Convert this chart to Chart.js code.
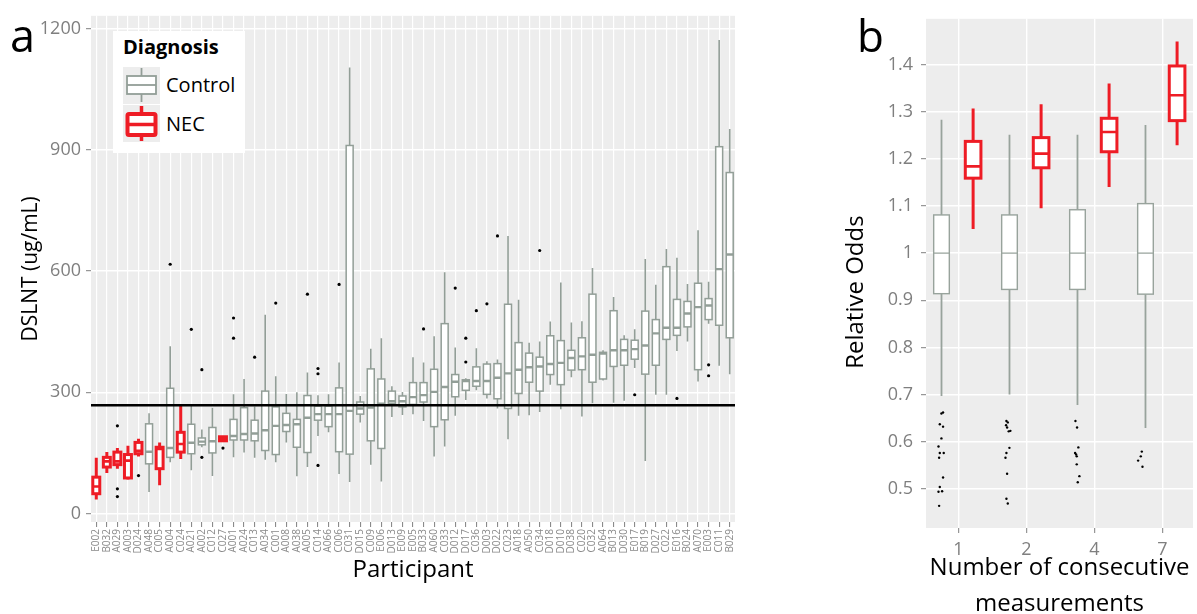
<!DOCTYPE html>
<html>
<head>
<meta charset="utf-8">
<script src="https://cdn.jsdelivr.net/npm/chart.js@4.4.1/dist/chart.umd.min.js"></script>
<style>
  html, body { margin: 0; padding: 0; background: #fff; }
  body { width: 1197px; height: 614px; position: relative; overflow: hidden; font-family: "Open Sans", sans-serif; }
  canvas { position: absolute; top: 0; }
  #chartA { left: 0; }
  #chartB { left: 830px; }
  .tag { position: absolute; font-size: 45px; line-height: 1; color: #000; }
  .legend { position: absolute; left: 113px; top: 31px; width: 132px; height: 122px; background: #fff; }
  .legend div { position: absolute; line-height: 1; white-space: nowrap; }
  .legend-title { left: 10px; top: 6px; font-size: 20px; font-weight: 700; }
  .key { left: 10px; width: 37px; height: 37px; background: #ededed; }
  .key-label { left: 53px; font-size: 20px; }
</style>
</head>
<body>
<canvas id="chartA" width="745" height="614"></canvas>
<canvas id="chartB" width="367" height="614"></canvas>

<div class="tag" style="left:10px; top:12px;">a</div>
<div class="tag" style="left:857px; top:13px; font-size:44px;">b</div>

<div class="legend">
  <div class="legend-title">Diagnosis</div>
  <div class="key" style="top:36px;">
    <svg width="37" height="37">
      <line x1="18.5" y1="1" x2="18.5" y2="35" stroke="#929e97" stroke-width="1.8"/>
      <rect x="4" y="9" width="29" height="18" fill="#fff" stroke="#929e97" stroke-width="1.8"/>
      <line x1="4" y1="18" x2="33" y2="18" stroke="#929e97" stroke-width="1.8"/>
    </svg>
  </div>
  <div class="key-label" style="top:44px;">Control</div>
  <div class="key" style="top:74px;">
    <svg width="37" height="37">
      <line x1="18.5" y1="1" x2="18.5" y2="36" stroke="#ee1c25" stroke-width="3.5"/>
      <rect x="4.5" y="9" width="28" height="21" fill="#fff" stroke="#ee1c25" stroke-width="4" rx="1.5"/>
      <line x1="4.5" y1="19.5" x2="32.5" y2="19.5" stroke="#ee1c25" stroke-width="3.5"/>
    </svg>
  </div>
  <div class="key-label" style="top:83px;">NEC</div>
</div>

<script>
// ---- panel a: DSLNT per participant ----
const participants = ['E002', 'B032', 'A029', 'A003', 'D024', 'A048', 'C005', 'A004', 'C024', 'A021',
  'A002', 'C012', 'C027', 'A001', 'A024', 'C013', 'A034', 'C001', 'A008', 'A038',
  'A005', 'C014', 'A066', 'C006', 'C031', 'D015', 'C009', 'E006', 'D013', 'E009',
  'E005', 'B033', 'A060', 'C033', 'D012', 'D017', 'C036', 'D003', 'D022', 'C023',
  'A018', 'A050', 'C034', 'D018', 'D010', 'D038', 'C020', 'C032', 'A064', 'B013',
  'D030', 'E017', 'B019', 'D027', 'C022', 'E016', 'B024', 'A070', 'E003', 'C011', 'B029'];
const diagnosis = ['NEC', 'NEC', 'NEC', 'NEC', 'NEC', 'Control', 'NEC', 'Control', 'NEC', 'Control',
  'Control', 'Control', 'NEC', 'Control', 'Control', 'Control', 'Control', 'Control', 'Control', 'Control',
  'Control', 'Control', 'Control', 'Control', 'Control', 'Control', 'Control', 'Control', 'Control', 'Control',
  'Control', 'Control', 'Control', 'Control', 'Control', 'Control', 'Control', 'Control', 'Control', 'Control',
  'Control', 'Control', 'Control', 'Control', 'Control', 'Control', 'Control', 'Control', 'Control', 'Control',
  'Control', 'Control', 'Control', 'Control', 'Control', 'Control', 'Control', 'Control', 'Control', 'Control', 'Control'];
const dslntLow = [35, 100, 111, 84, 141, 53, 70, 127, 135, 107,
  164, 93, 178, 139, 151, 138, 133, 127, 176, 92,
  115, 192, 201, 98, 78, 225, 121, 79, 239, 244,
  246, 229, 141, 166, 242, 281, 305, 285, 260, 184,
  242, 243, 251, 319, 258, 337, 240, 273, 329, 274,
  279, 360, 130, 294, 294, 402, 426, 327, 470, 366, 345];
const dslntQ1 = [49, 115, 121, 88, 148, 123, 111, 139, 152, 148,
  170, 150, 180, 182, 182, 180, 156, 146, 203, 164,
  151, 231, 215, 153, 147, 246, 180, 161, 272, 264,
  270, 276, 215, 232, 289, 305, 315, 295, 284, 260,
  297, 325, 303, 344, 319, 355, 356, 325, 333, 364,
  367, 382, 345, 367, 431, 441, 462, 356, 480, 466, 435];
const dslntMedian = [67, 129, 129, 131, 155, 153, 160, 162, 172, 175,
  178, 179, 185, 192, 197, 198, 206, 217, 219, 221,
  237, 246, 246, 246, 254, 260, 262, 272, 278, 278,
  288, 293, 301, 313, 326, 328, 328, 328, 336, 347,
  356, 362, 364, 370, 373, 385, 389, 393, 396, 404,
  404, 407, 416, 446, 460, 460, 495, 511, 515, 605, 641];
const dslntQ3 = [90, 139, 152, 146, 176, 222, 164, 310, 201, 221,
  187, 213, 190, 233, 262, 231, 303, 264, 248, 233,
  292, 266, 266, 311, 911, 276, 358, 333, 303, 291,
  324, 324, 357, 470, 344, 331, 363, 370, 371, 518,
  423, 397, 387, 440, 428, 404, 435, 543, 399, 502,
  431, 429, 501, 480, 611, 530, 525, 570, 532, 908, 844];
const dslntHigh = [138, 152, 162, 168, 185, 248, 176, 414, 268, 266,
  208, 262, 192, 295, 333, 265, 492, 340, 296, 300,
  349, 293, 295, 374, 1104, 291, 408, 434, 315, 301,
  387, 374, 439, 597, 411, 335, 409, 377, 381, 687,
  529, 423, 426, 475, 572, 473, 476, 608, 404, 536,
  441, 456, 630, 566, 655, 633, 568, 701, 574, 1172, 952];
const outlierParticipant = ['A029', 'A029', 'A029', 'D024', 'A004', 'A021', 'A002', 'A002', 'C027', 'A001',
  'A001', 'C013', 'C001', 'A005', 'C014', 'C014', 'C014', 'C006', 'B033', 'D012',
  'D017', 'D017', 'C036', 'D003', 'D022', 'C034', 'E017', 'E016', 'E003', 'E003'];
const outlierValue = [217, 61, 42, 94, 617, 456, 356, 139, 162, 484,
  434, 387, 521, 543, 359, 346, 119, 567, 457, 558,
  434, 375, 502, 519, 687, 651, 294, 285, 368, 341];
const dslntCutoff = 268;
const dslntTicks = [0, 300, 600, 900, 1200];

// ---- panel b: relative odds by number of consecutive measurements ----
const measurementCounts = ['1', '2', '4', '7'];
const controlLow = [0.697, 0.700, 0.678, 0.629];
const controlQ1 = [0.914, 0.923, 0.923, 0.913];
const controlMedian = [1.0, 1.0, 1.0, 1.0];
const controlQ3 = [1.081, 1.081, 1.092, 1.105];
const controlHigh = [1.283, 1.251, 1.251, 1.272];
const necLow = [1.051, 1.095, 1.140, 1.229];
const necQ1 = [1.159, 1.181, 1.215, 1.281];
const necMedian = [1.184, 1.211, 1.257, 1.335];
const necQ3 = [1.237, 1.245, 1.286, 1.397];
const necHigh = [1.307, 1.316, 1.360, 1.449];
const oddsOutlierPos = [0.773, 0.749, 0.725, 0.773, 0.749, 0.706, 0.725, 0.783, 0.715, 0.773, 0.725, 0.759, 0.706, 0.715,
  1.705, 1.725, 1.700, 1.715, 1.739, 1.763, 1.749, 1.705, 1.691, 1.715, 1.705, 1.725,
  2.720, 2.744, 2.763, 2.715, 2.730, 2.739, 2.739, 2.778, 2.754,
  3.696, 3.681, 3.642, 3.706];
const oddsOutlierValue = [0.662, 0.660, 0.637, 0.632, 0.607, 0.590, 0.576, 0.576, 0.566, 0.524, 0.504, 0.495, 0.494, 0.464,
  0.644, 0.641, 0.635, 0.630, 0.622, 0.623, 0.587, 0.576, 0.566, 0.532, 0.479, 0.469,
  0.644, 0.630, 0.588, 0.576, 0.573, 0.569, 0.552, 0.527, 0.514,
  0.579, 0.569, 0.560, 0.547];
const oddsTicks = [0.5, 0.6, 0.7, 0.8, 0.9, 1.0, 1.1, 1.2, 1.3, 1.4];

const FONT = '"Open Sans", sans-serif';
const TICK_GREY = '#7f7f7f';
const PANEL_BG = '#ededed';

// draws the grey panel, the boxes and whiskers, and an optional reference line
function boxplotPlugin(boxes, styles, boxWidth, refLine) {
  return {
    id: 'boxplot',
    beforeDraw(chart) {
      const { ctx, chartArea: a } = chart;
      ctx.save();
      ctx.fillStyle = PANEL_BG;
      ctx.fillRect(a.left, a.top, a.right - a.left, a.bottom - a.top);
      ctx.restore();
    },
    beforeDatasetsDraw(chart) {
      const { ctx, chartArea: a, scales: { x, y } } = chart;
      ctx.save();
      ctx.beginPath();
      ctx.rect(a.left, a.top, a.right - a.left, a.bottom - a.top);
      ctx.clip();
      boxes.forEach((b) => {
        const st = styles[b.group];
        const cx = x.getPixelForValue(b.pos);
        const half = (x.getPixelForValue(b.pos + boxWidth / 2) - x.getPixelForValue(b.pos - boxWidth / 2)) / 2;
        const yLow = y.getPixelForValue(b.low);
        const yQ1 = y.getPixelForValue(b.q1);
        const yMed = y.getPixelForValue(b.median);
        const yQ3 = y.getPixelForValue(b.q3);
        const yHigh = y.getPixelForValue(b.high);
        ctx.strokeStyle = st.color;
        ctx.lineWidth = st.whisker;
        ctx.beginPath();
        ctx.moveTo(cx, yHigh); ctx.lineTo(cx, yQ3);
        ctx.moveTo(cx, yQ1); ctx.lineTo(cx, yLow);
        ctx.stroke();
        ctx.fillStyle = '#fff';
        ctx.fillRect(cx - half, yQ3, 2 * half, yQ1 - yQ3);
        ctx.lineWidth = st.box;
        ctx.strokeRect(cx - half, yQ3, 2 * half, yQ1 - yQ3);
        ctx.lineWidth = st.median;
        ctx.beginPath();
        ctx.moveTo(cx - half, yMed); ctx.lineTo(cx + half, yMed);
        ctx.stroke();
      });
      ctx.restore();
    },
    afterDatasetsDraw(chart) {
      if (refLine == null) return;
      const { ctx, chartArea: a, scales: { y } } = chart;
      const py = y.getPixelForValue(refLine);
      ctx.save();
      ctx.strokeStyle = '#000';
      ctx.lineWidth = 2.6;
      ctx.beginPath();
      ctx.moveTo(a.left, py); ctx.lineTo(a.right, py);
      ctx.stroke();
      ctx.restore();
    }
  };
}

const gridBase = { color: '#ffffff', lineWidth: 1.4, tickColor: TICK_GREY, tickLength: 5, tickWidth: 1 };

// panel a
const boxesA = participants.map((p, i) => ({
  pos: i, group: diagnosis[i],
  low: dslntLow[i], q1: dslntQ1[i], median: dslntMedian[i], q3: dslntQ3[i], high: dslntHigh[i]
}));

new Chart(document.getElementById('chartA'), {
  type: 'scatter',
  data: {
    labels: participants,
    datasets: [{
      data: outlierParticipant.map((p, i) => ({ x: p, y: outlierValue[i] })),
      pointRadius: 1.6,
      pointBackgroundColor: '#000',
      pointBorderWidth: 0
    }]
  },
  options: {
    responsive: false,
    animation: false,
    events: [],
    layout: { padding: { top: 12, right: 10, left: 0, bottom: 0 } },
    plugins: { legend: { display: false }, tooltip: { enabled: false } },
    scales: {
      x: {
        type: 'category',
        offset: true,
        border: { display: false },
        grid: { ...gridBase, lineWidth: 1.2, offset: false },
        ticks: {
          autoSkip: false, minRotation: 90, maxRotation: 90, padding: 2,
          color: '#8a8a8a', font: { family: FONT, size: 10 }
        },
        title: {
          display: true, text: 'Participant', color: '#000',
          font: { family: FONT, size: 24 }, padding: { top: 0, bottom: 29 }
        },
        afterFit: (s) => { s.height = 92; }
      },
      y: {
        type: 'linear',
        min: -21, max: 1232,
        border: { display: false },
        grid: gridBase,
        afterBuildTicks: (s) => { s.ticks = dslntTicks.map((v) => ({ value: v })); },
        ticks: {
          padding: 5, color: TICK_GREY, font: { family: FONT, size: 18 },
          callback: (v) => String(v)
        },
        title: {
          display: true, text: 'DSLNT (ug/mL)', color: '#000',
          font: { family: FONT, size: 21 }, padding: { top: 18, bottom: 0 }
        },
        afterFit: (s) => { s.width = 91; }
      }
    }
  },
  plugins: [boxplotPlugin(boxesA, {
    Control: { color: '#929e97', box: 1.5, whisker: 1.6, median: 2.4 },
    NEC: { color: '#ee1c25', box: 3, whisker: 3, median: 2.6 }
  }, 0.66, dslntCutoff)]
});

// panel b
const boxesB = [];
measurementCounts.forEach((c, i) => {
  boxesB.push({ pos: i + 1 - 0.25, group: 'Control', low: controlLow[i], q1: controlQ1[i], median: controlMedian[i], q3: controlQ3[i], high: controlHigh[i] });
  boxesB.push({ pos: i + 1 + 0.215, group: 'NEC', low: necLow[i], q1: necQ1[i], median: necMedian[i], q3: necQ3[i], high: necHigh[i] });
});

new Chart(document.getElementById('chartB'), {
  type: 'scatter',
  data: {
    datasets: [{
      data: oddsOutlierPos.map((x, i) => ({ x: x, y: oddsOutlierValue[i] })),
      pointRadius: 1.2,
      pointBackgroundColor: '#000',
      pointBorderWidth: 0
    }]
  },
  options: {
    responsive: false,
    animation: false,
    events: [],
    layout: { padding: { top: 15, right: 0, left: 0, bottom: 0 } },
    plugins: { legend: { display: false }, tooltip: { enabled: false } },
    scales: {
      x: {
        type: 'linear',
        min: 0.522, max: 4.449,
        border: { display: false },
        grid: gridBase,
        afterBuildTicks: (s) => { s.ticks = measurementCounts.map((c, i) => ({ value: i + 1 })); },
        ticks: {
          padding: 6, color: TICK_GREY, font: { family: FONT, size: 18 },
          callback: (v) => measurementCounts[v - 1]
        },
        title: {
          display: true, text: ['Number of consecutive', 'measurements'], color: '#000',
          font: { family: FONT, size: 24, lineHeight: 1.5 }, padding: { top: 0, bottom: -8 }
        },
        afterFit: (s) => { s.height = 86; }
      },
      y: {
        type: 'linear',
        min: 0.417, max: 1.497,
        border: { display: false },
        grid: gridBase,
        afterBuildTicks: (s) => { s.ticks = oddsTicks.map((v) => ({ value: v })); },
        ticks: {
          padding: 8, color: TICK_GREY, font: { family: FONT, size: 18 },
          callback: (v) => String(+v.toFixed(1))
        },
        title: {
          display: true, text: 'Relative Odds\u00a0\u00a0\u00a0\u00a0\u00a0\u00a0', color: '#000',
          font: { family: FONT, size: 24 }, padding: { top: 12, bottom: 0 }
        },
        afterFit: (s) => { s.width = 96; }
      }
    }
  },
  plugins: [boxplotPlugin(boxesB, {
    Control: { color: '#98a39c', box: 1.4, whisker: 1.8, median: 1.4 },
    NEC: { color: '#ee1c25', box: 3, whisker: 3, median: 2.6 }
  }, 0.23, null)]
});
</script>
</body>
</html>
